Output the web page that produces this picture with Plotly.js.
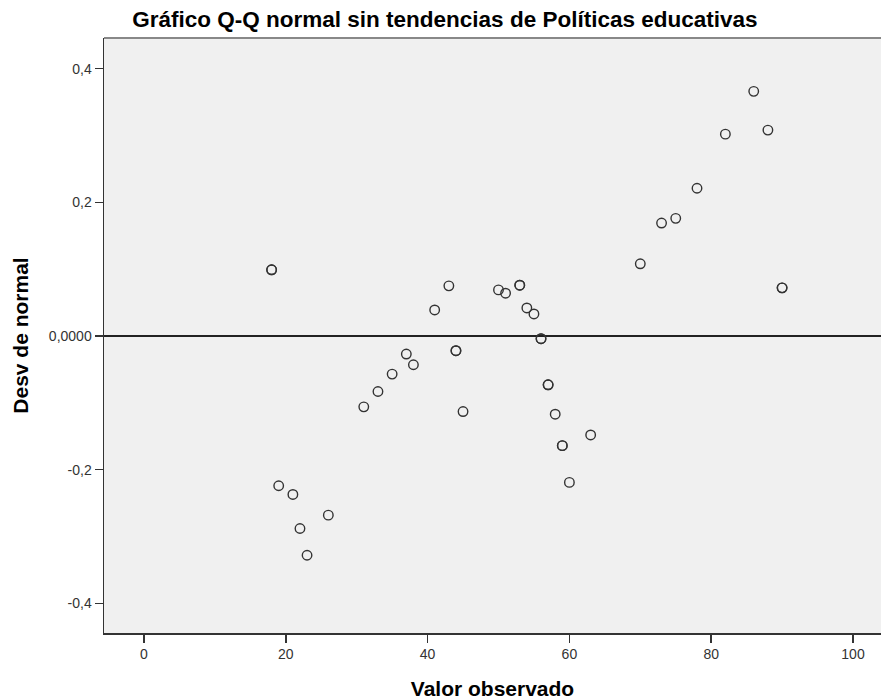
<!DOCTYPE html>
<html>
<head>
<meta charset="utf-8">
<script src="https://cdn.plot.ly/plotly-3.0.1.min.js"></script>
<style>html,body{margin:0;padding:0;background:#fff;}#chart{width:881px;height:700px;}</style>
</head>
<body>
<div id="chart"></div>
<script>
var observedValues = [18, 18, 19, 21, 22, 23, 26, 31, 33, 35, 37, 38, 41, 43, 44, 44, 45, 50, 51, 53, 53, 54, 55, 56, 56, 57, 57, 58, 59, 59, 60, 63, 70, 73, 75, 78, 82, 86, 88, 90, 90];
var normalDeviation = [0.099, 0.099, -0.224, -0.237, -0.288, -0.328, -0.268, -0.106, -0.083, -0.057, -0.027, -0.043, 0.039, 0.075, -0.022, -0.022, -0.113, 0.069, 0.064, 0.076, 0.076, 0.042, 0.033, -0.004, -0.004, -0.073, -0.073, -0.117, -0.164, -0.164, -0.219, -0.148, 0.108, 0.169, 0.176, 0.221, 0.302, 0.366, 0.308, 0.072, 0.072];
var xTickVals = [0, 20, 40, 60, 80, 100];
var xTickText = ["0", "20", "40", "60", "80", "100"];
var yTickVals = [-0.4, -0.2, 0, 0.2, 0.4];
var yTickText = ["-0,4", "-0,2", "0,0000", "0,2", "0,4"];

var font = "Arial, 'Liberation Sans', sans-serif";

var trace = {
  x: observedValues,
  y: normalDeviation,
  type: "scatter",
  mode: "markers",
  marker: {symbol: "circle-open", size: 9.5, color: "#333333", line: {color: "#333333", width: 1.4}},
  hoverinfo: "x+y",
  showlegend: false
};

var layout = {
  width: 881,
  height: 700,
  margin: {l: 104, r: 0, t: 38, b: 67},
  paper_bgcolor: "#ffffff",
  plot_bgcolor: "#f0f0f0",
  title: {
    text: "Gráfico Q-Q normal sin tendencias de Políticas educativas",
    font: {family: font, size: 22.5, color: "#000000", weight: "bold"},
    xref: "container", x: 0.505, xanchor: "center",
    yref: "container", y: 0.973, yanchor: "middle"
  },
  xaxis: {
    range: [-5.64, 103.95],
    tickvals: xTickVals,
    ticktext: xTickText,
    ticks: "outside",
    ticklen: 8,
    tickwidth: 1.5,
    tickcolor: "#333333",
    showgrid: false,
    zeroline: false,
    showline: true,
    linecolor: "#333333",
    linewidth: 1.5,
    tickfont: {family: font, size: 14, color: "#333333"},
    title: {text: "Valor observado", font: {family: font, size: 21, color: "#000000", weight: "bold"}, standoff: 20}
  },
  yaxis: {
    range: [-0.4443, 0.4458],
    tickvals: yTickVals,
    ticktext: yTickText,
    ticks: "outside",
    ticklen: 8,
    tickwidth: 1.5,
    tickcolor: "#333333",
    showgrid: false,
    zeroline: true,
    zerolinecolor: "#222222",
    zerolinewidth: 1.5,
    showline: true,
    linecolor: "#333333",
    linewidth: 1.5,
    tickfont: {family: font, size: 14, color: "#333333"},
    title: {text: "Desv de normal", font: {family: font, size: 21, color: "#000000", weight: "bold"}, standoff: 14}
  },
  shapes: [{
    type: "line", xref: "paper", yref: "paper", x0: 0, x1: 1, y0: 1, y1: 1,
    line: {color: "#888888", width: 2}
  }]
};

Plotly.newPlot("chart", [trace], layout, {displayModeBar: false, staticPlot: true});
</script>
</body>
</html>
